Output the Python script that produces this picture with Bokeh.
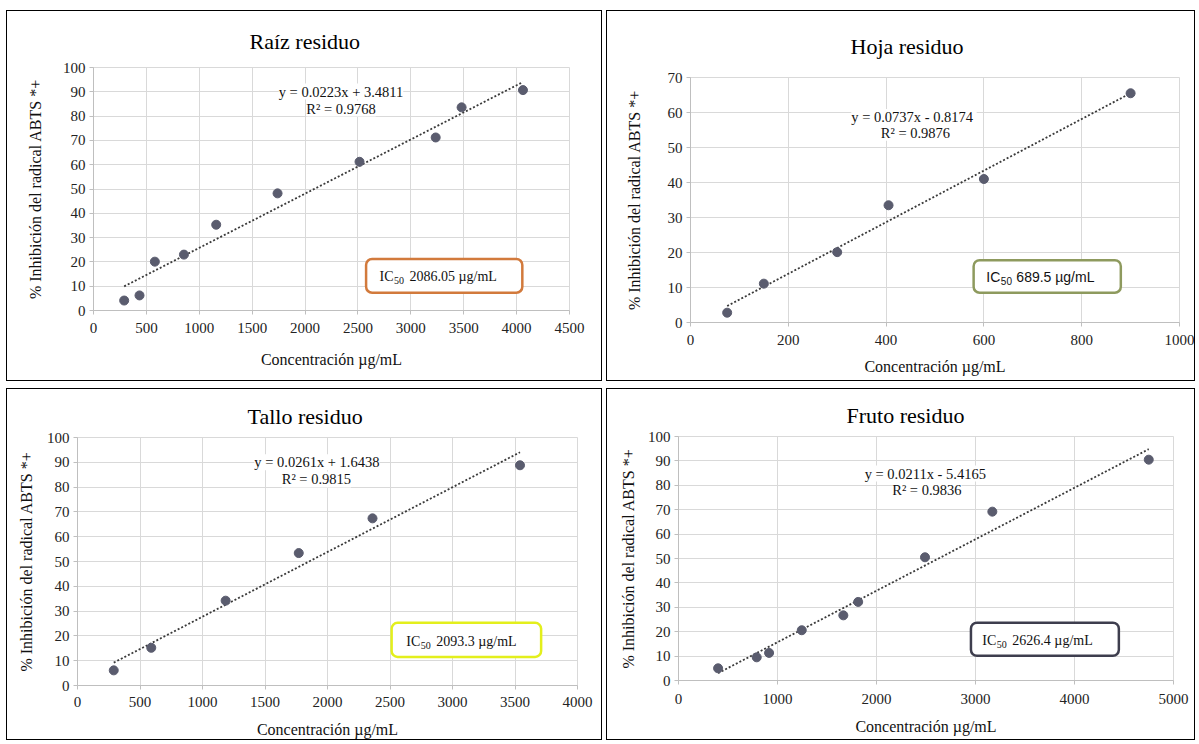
from bokeh.plotting import figure
from bokeh.models import Range1d, FixedTicker, Label, BoxAnnotation, ColumnDataSource, Spacer, Title
from bokeh.layouts import row, column
from bokeh.embed import file_html
from bokeh.resources import INLINE

SERIF = "Liberation Serif"
SANS = "Liberation Sans"

# ---------------- data ----------------
TITLES = ["Raíz residuo", "Hoja residuo", "Tallo residuo", "Fruto residuo"]
X_LABEL = "Concentración µg/mL"
Y_LABEL = "% Inhibición del radical ABTS *+"

raiz_x = [290, 435, 580, 855, 1160, 1740, 2515, 3235, 3480, 4060]
raiz_y = [4.1, 6.2, 20.1, 23.0, 35.3, 48.2, 61.2, 71.2, 83.6, 90.7]

hoja_x = [75, 150, 300, 405, 600, 900]
hoja_y = [2.8, 11.1, 20.1, 33.5, 41.0, 65.5]

tallo_x = [290, 590, 1185, 1770, 2360, 3540]
tallo_y = [6.1, 15.2, 34.2, 53.4, 67.4, 88.8]

fruto_x = [400, 790, 915, 1245, 1665, 1815, 2490, 3170, 4750]
fruto_y = [5.0, 9.5, 11.3, 20.6, 26.7, 32.2, 50.5, 69.2, 90.5]

slopes = [0.0223, 0.0737, 0.0261, 0.0211]
intercepts = [3.4811, -0.8174, 1.6438, -5.4165]
eq_texts = ["y = 0.0223x + 3.4811", "y = 0.0737x  - 0.8174",
            "y = 0.0261x + 1.6438", "y = 0.0211x  - 5.4165"]
r2_texts = ["R² = 0.9768", "R² = 0.9876", "R² = 0.9815", "R² = 0.9836"]
ic50_texts = ["2086.05  µg/mL", "689.5  µg/mL", "2093.3  µg/mL", "2626.4  µg/mL"]

raiz_xticks = [0, 500, 1000, 1500, 2000, 2500, 3000, 3500, 4000, 4500]
hoja_xticks = [0, 200, 400, 600, 800, 1000]
tallo_xticks = [0, 500, 1000, 1500, 2000, 2500, 3000, 3500, 4000]
fruto_xticks = [0, 1000, 2000, 3000, 4000, 5000]
y100_ticks = [0, 10, 20, 30, 40, 50, 60, 70, 80, 90, 100]
y70_ticks = [0, 10, 20, 30, 40, 50, 60, 70]

# ---------------- layout / style per panel ----------------
# mb = (left, right, top, bottom) min borders; tl = title offset, ts = title standoff
panels = [
    dict(xs=raiz_x, ys=raiz_y, i=0, xr=(0, 4500), yr=(0, 100), xt=raiz_xticks, yt=y100_ticks,
         W=596, H=371, mb=(86, 34, 56, 72), xts=8, xls=15, yls=16, tl=156, ts=28,
         eq=(2340, 90.1), r2=(2340, 83.1),
         box=(2577, 4054, 7.3, 21.2), ic=(2704, 14.0), bc="#d27a3c", icf=SERIF),
    dict(xs=hoja_x, ys=hoja_y, i=1, xr=(0, 1000), yr=(0, 70), xt=hoja_xticks, yt=y70_ticks,
         W=589, H=371, mb=(83, 17, 66, 60), xts=8, xls=10, yls=22, tl=160, ts=38,
         eq=(457, 58.7), r2=(460, 54.2),
         box=(579, 880, 8.5, 17.8), ic=(605, 13.0), bc="#8e9a5e", icf=SANS),
    dict(xs=tallo_x, ys=tallo_y, i=2, xr=(0, 4000), yr=(0, 100), xt=tallo_xticks, yt=y100_ticks,
         W=596, H=352, mb=(70, 26, 48, 56), xts=7, xls=11, yls=9, tl=170, ts=17,
         eq=(1915, 90.0), r2=(1911, 83.1),
         box=(2513, 3709, 11.5, 25.3), ic=(2630, 17.9), bc="#e3ef1c", icf=SERIF),
    dict(xs=fruto_x, ys=fruto_y, i=3, xr=(0, 5000), yr=(0, 100), xt=fruto_xticks, yt=y100_ticks,
         W=589, H=352, mb=(71, 23, 47, 61), xts=9, xls=11, yls=8, tl=168, ts=17,
         eq=(2511, 84.8), r2=(2509, 77.9),
         box=(2954, 4448, 10.1, 23.7), ic=(3069, 16.2), bc="#3e3e4e", icf=SERIF),
]


def make_panel(c):
    i = c["i"]
    title = Title(text=TITLES[i], align="left", offset=c["tl"], standoff=c["ts"],
                  vertical_align="bottom", text_font=SERIF, text_font_size="22px",
                  text_font_style="normal", text_color="#000000")
    p = figure(width=c["W"], height=c["H"], output_backend="svg", toolbar_location=None,
               x_range=Range1d(*c["xr"]), y_range=Range1d(*c["yr"]), title=title,
               min_border_left=c["mb"][0], min_border_right=c["mb"][1],
               min_border_top=c["mb"][2], min_border_bottom=c["mb"][3])
    p.styles = {"border": "1px solid #000000"}
    p.background_fill_color = "white"
    p.border_fill_color = "white"
    p.outline_line_color = "#d9d9d9"
    p.xgrid.grid_line_color = "#d9d9d9"
    p.ygrid.grid_line_color = "#d9d9d9"
    p.xaxis.ticker = FixedTicker(ticks=c["xt"])
    p.yaxis.ticker = FixedTicker(ticks=c["yt"])
    for ax in (p.xaxis, p.yaxis):
        ax.axis_line_color = "#bfbfbf"
        ax.major_tick_line_color = "#bfbfbf"
        ax.major_tick_in = 0
        ax.major_tick_out = 4
        ax.minor_tick_line_color = None
        ax.major_label_text_font = SERIF
        ax.major_label_text_font_size = "15px"
        ax.major_label_text_color = "#222222"
        ax.axis_label_text_font = SERIF
        ax.axis_label_text_font_size = "16px"
        ax.axis_label_text_font_style = "normal"
        ax.axis_label_text_color = "#111111"
    p.xaxis.major_label_standoff = c["xts"]
    p.yaxis.major_label_standoff = 4
    p.xaxis.axis_label = X_LABEL
    p.yaxis.axis_label = Y_LABEL
    p.xaxis.axis_label_standoff = c["xls"]
    p.yaxis.axis_label_standoff = c["yls"]

    xs, ys = c["xs"], c["ys"]
    m, b = slopes[i], intercepts[i]
    x0, x1 = min(xs), max(xs)
    p.line(x=[x0, x1], y=[m * x0 + b, m * x1 + b], line_color="#3a3a3a",
           line_width=1.8, line_dash="2 2")
    p.scatter(x="x", y="y", source=ColumnDataSource(dict(x=xs, y=ys)), size=9,
              fill_color="#5a5c6e", line_color="#5a5c6e")

    for txt, pos in ((eq_texts[i], c["eq"]), (r2_texts[i], c["r2"])):
        p.add_layout(Label(x=pos[0], y=pos[1], text=txt, text_align="center",
                           text_baseline="middle", text_font=SERIF, text_font_size="14.5px",
                           text_color="#111111", background_fill_color="white"))

    l, r, bt, tp = c["box"]
    p.add_layout(BoxAnnotation(left=l, right=r, bottom=bt, top=tp, fill_color="white",
                               fill_alpha=1.0, line_color=c["bc"], line_width=2.5,
                               line_alpha=1.0, border_radius=6))
    ix, iy = c["ic"]
    f = c["icf"]
    p.add_layout(Label(x=ix, y=iy, text="IC", text_align="left", text_baseline="middle",
                       text_font=f, text_font_size="14px", text_color="#111111"))
    p.add_layout(Label(x=ix, y=iy, x_offset=14.5, y_offset=-4, text="50", text_align="left",
                       text_baseline="middle", text_font=f, text_font_size="10px",
                       text_color="#111111"))
    p.add_layout(Label(x=ix, y=iy, x_offset=30, text=ic50_texts[i], text_align="left",
                       text_baseline="middle", text_font=f, text_font_size="14px",
                       text_color="#111111"))
    return p


figs = [make_panel(c) for c in panels]
top_row = row(Spacer(width=6), column(figs[0]), Spacer(width=4), column(figs[1]))
bottom_row = row(Spacer(width=6), column(figs[2]), Spacer(width=4), column(figs[3]))
layout = column(Spacer(height=10), top_row, Spacer(height=7), bottom_row)

open("out.html", "w").write(file_html(layout, INLINE))
